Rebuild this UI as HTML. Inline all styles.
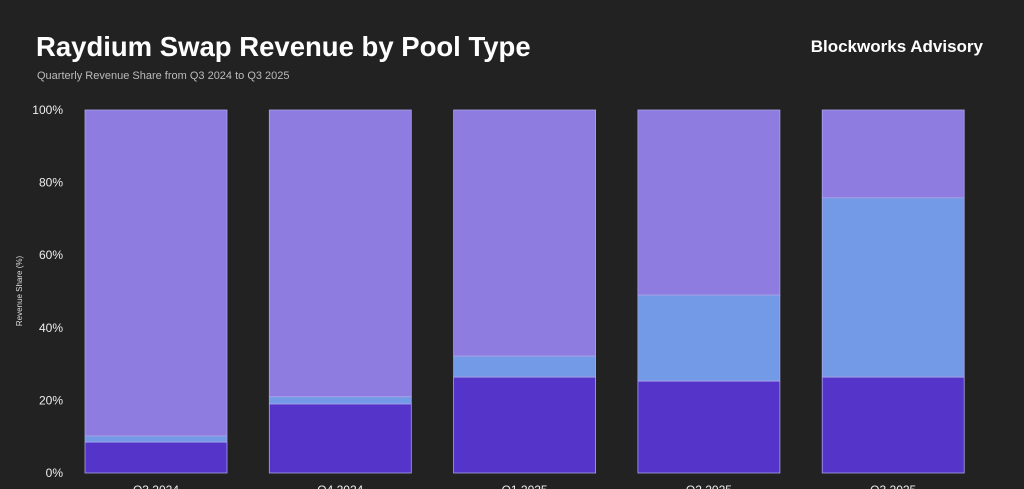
<!DOCTYPE html>
<html><head><meta charset="utf-8"><style>
body{margin:0;width:1024px;height:489px;background:#222222;overflow:hidden;font-family:"Liberation Sans",sans-serif}
</style></head><body>
<svg width="1024" height="489" style="position:absolute;left:0;top:0">
<rect width="1024" height="489" fill="#222222"/>
<text x="36" y="56" fill="#ffffff" font-size="27.5" font-weight="bold">Raydium Swap Revenue by Pool Type</text>
<text x="37" y="79" fill="#bbbbbb" font-size="11">Quarterly Revenue Share from Q3 2024 to Q3 2025</text>
<text x="983" y="52" fill="#ffffff" font-size="17" font-weight="bold" text-anchor="end">Blockworks Advisory</text>
<text transform="translate(22,291) rotate(-90)" fill="#dddddd" font-size="8" text-anchor="middle">Revenue Share (%)</text>
<g id="yticks"></g>
<g id="bars"></g>
<g id="xlabels"></g>
</svg>
<script>
const categories=["Q3 2024","Q4 2024","Q1 2025","Q2 2025","Q3 2025"];
const seriesBottom=[8.5,19,26.4,25.3,26.4];
const seriesMiddle=[1.7,2,5.8,23.7,49.4];
const yTicks=[0,20,40,60,80,100];
const ns="http://www.w3.org/2000/svg";
const top0=110,bot0=473,x0=85,step=184.3,bw=142;
const y=v=>bot0-(bot0-top0)*v/100;
const xb=i=>x0+i*step;
const yt=document.getElementById('yticks'),bg=document.getElementById('bars'),xl=document.getElementById('xlabels');
yTicks.forEach(t=>{const e=document.createElementNS(ns,'text');


e.setAttribute('x',63);e.setAttribute('y',y(t)+4);e.setAttribute('fill','#eeeeee');e.setAttribute('font-size','12');e.setAttribute('text-anchor','end');e.textContent=t+'%';yt.appendChild(e);});
function rect(x,y1,y2,fill,name){const r=document.createElementNS(ns,'rect');


r.setAttribute('x',x);r.setAttribute('y',y2);r.setAttribute('width',bw);r.setAttribute('height',Math.max(0,y1-y2));r.setAttribute('fill',fill);r.setAttribute('stroke','#a9a3e8');r.setAttribute('stroke-width','0.8');bg.appendChild(r);}
categories.forEach((c,i)=>{const b=seriesBottom[i],m=seriesMiddle[i];const x=xb(i);
rect(x,y(b+m),y(100),'#8f7ce0','bar-top-segment');
rect(x,y(b),y(b+m),'#739ae6','bar-middle-segment');
rect(x,y(0),y(b),'#5434c9','bar-bottom-segment');
const t=document.createElementNS(ns,'text');


t.setAttribute('x',x+bw/2);t.setAttribute('y',494);t.setAttribute('fill','#eeeeee');t.setAttribute('font-size','12');t.setAttribute('text-anchor','middle');t.textContent=c;xl.appendChild(t);});
</script>
</body></html>
